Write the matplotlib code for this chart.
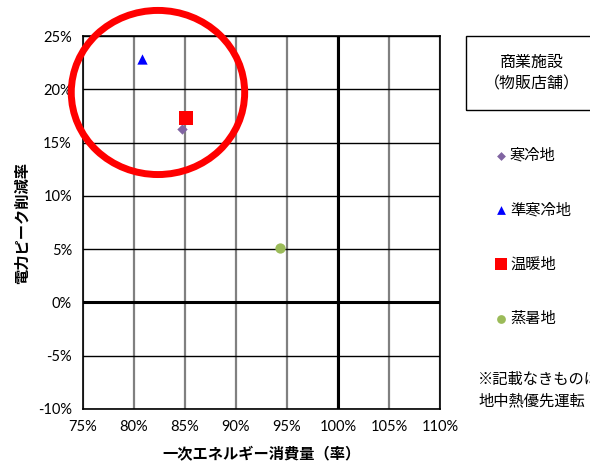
import matplotlib
matplotlib.use("Agg")
import matplotlib.pyplot as plt
from matplotlib.patches import Ellipse, Rectangle
from matplotlib.ticker import FuncFormatter, MultipleLocator

plt.rcParams['font.family'] = ['Noto Sans CJK JP', 'DejaVu Sans']

regions = ["寒冷地", "準寒冷地", "温暖地", "蒸暑地"]
energy = [84.7, 80.8, 85.1, 94.3]
peak_cut = [16.3, 22.8, 17.3, 5.1]
markers = ["D", "^", "s", "o"]
colors = ["#8064A2", "#0000FF", "#FF0000", "#9BBB59"]
sizes = [28, 55, 90, 55]
legend_title = "商業施設\n（物販店舗）"
note = "※記載なきものは\n地中熱優先運転"

W, H = 590, 465
fig = plt.figure(figsize=(W/100, H/100), dpi=100)
ax = fig.add_axes([83/W, 1-409/H, (440-83)/W, (409-36)/H])

handles = []
for r, x, y, m, c, s in zip(regions, energy, peak_cut, markers, colors, sizes):
    h = ax.scatter([x], [y], marker=m, color=c, s=s, zorder=5, label=r, linewidths=0)
    handles.append(h)

ax.set_xlim(75, 110)
ax.set_ylim(-10, 25)
ax.xaxis.set_major_locator(MultipleLocator(5))
ax.yaxis.set_major_locator(MultipleLocator(5))
fmt = FuncFormatter(lambda v, p: f"{v:.0f}%")
ax.xaxis.set_major_formatter(fmt)
ax.yaxis.set_major_formatter(fmt)
ax.tick_params(length=0, labelsize=10.5, pad=8)
for lab in ax.get_xticklabels() + ax.get_yticklabels():
    lab.set_family(['Lato', 'DejaVu Sans'])

ax.grid(axis='x', color='#808080', linewidth=1.6)
ax.grid(axis='y', color='black', linewidth=1.0)
ax.set_axisbelow(True)
ax.axvline(100, color='black', linewidth=2.2, zorder=2)
ax.axhline(0, color='black', linewidth=2.2, zorder=2)
for sp in ax.spines.values():
    sp.set_linewidth(1.2)

ax.set_xlabel("一次エネルギー消費量（率）", fontsize=11, fontweight='bold', labelpad=9)
ax.set_ylabel("電力ピーク削減率", fontsize=11, fontweight='bold', labelpad=6)

ell = Ellipse((82.35, 19.7), 17.0, 15.4, fill=False, edgecolor='#FF0000',
              linewidth=5, zorder=6, clip_on=False)
ax.add_patch(ell)

# legend title box
fig.patches.append(Rectangle((466/W, 1-110/H), 140/W, 74/H, transform=fig.transFigure,
                             fill=False, edgecolor='black', linewidth=1.0))
fig.text(532/W, 1-73/H, legend_title, ha='center', va='center', fontsize=11.5,
         linespacing=1.35)

leg = fig.legend(handles=handles, loc='upper left', bbox_to_anchor=(484/W, 1-139/H),
                 frameon=False, fontsize=11, labelspacing=2.45, handletextpad=0.0,
                 handlelength=1.2, borderpad=0, markerscale=0.85)
fig.text(478/W, 1-390/H, note, ha='left', va='center', fontsize=11, linespacing=1.35)

fig.savefig("out.png", dpi=100)
